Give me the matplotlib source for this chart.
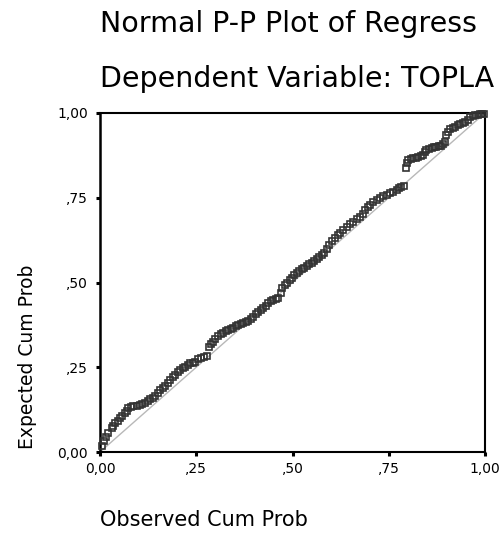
import matplotlib
matplotlib.use("Agg")
import matplotlib.pyplot as plt

# ---- data ----
observed_cum_prob = [
    0.004, 0.010, 0.016, 0.022, 0.030, 0.035, 0.039, 0.046, 0.052, 0.058,
    0.065, 0.070, 0.074, 0.080, 0.087, 0.095, 0.104, 0.110, 0.117, 0.124,
    0.130, 0.137, 0.143, 0.150, 0.156, 0.163, 0.169, 0.176, 0.182, 0.189,
    0.195, 0.202, 0.208, 0.215, 0.221, 0.228, 0.234, 0.241, 0.247, 0.255,
    0.262, 0.270, 0.277, 0.284, 0.289, 0.294, 0.300, 0.307, 0.313, 0.320,
    0.327, 0.333, 0.340, 0.346, 0.353, 0.359, 0.366, 0.372, 0.379, 0.385,
    0.392, 0.398, 0.405, 0.411, 0.418, 0.424, 0.431, 0.437, 0.444, 0.450,
    0.457, 0.463, 0.469, 0.474, 0.481, 0.487, 0.493, 0.498, 0.505, 0.511,
    0.518, 0.524, 0.531, 0.537, 0.544, 0.550, 0.557, 0.563, 0.570, 0.576,
    0.583, 0.589, 0.596, 0.603, 0.610, 0.617, 0.623, 0.632, 0.641, 0.650,
    0.658, 0.667, 0.675, 0.682, 0.688, 0.695, 0.701, 0.710, 0.719, 0.727,
    0.736, 0.745, 0.753, 0.762, 0.771, 0.777, 0.783, 0.790, 0.795, 0.797,
    0.801, 0.808, 0.814, 0.821, 0.827, 0.834, 0.840, 0.844, 0.848, 0.855,
    0.862, 0.868, 0.874, 0.881, 0.887, 0.892, 0.896, 0.900, 0.905, 0.909,
    0.916, 0.922, 0.929, 0.935, 0.942, 0.948, 0.955, 0.961, 0.968, 0.974,
    0.981, 0.987, 0.993, 0.997,
]
expected_cum_prob = [
    0.019, 0.032, 0.045, 0.055, 0.070, 0.077, 0.085, 0.092, 0.099, 0.107,
    0.114, 0.122, 0.129, 0.133, 0.136, 0.137, 0.139, 0.142, 0.145, 0.150,
    0.155, 0.160, 0.165, 0.174, 0.183, 0.189, 0.195, 0.204, 0.212, 0.220,
    0.227, 0.235, 0.242, 0.247, 0.252, 0.257, 0.262, 0.264, 0.266, 0.273,
    0.276, 0.279, 0.283, 0.311, 0.318, 0.325, 0.334, 0.342, 0.347, 0.352,
    0.356, 0.360, 0.364, 0.367, 0.371, 0.375, 0.378, 0.381, 0.384, 0.387,
    0.393, 0.399, 0.407, 0.414, 0.419, 0.424, 0.432, 0.439, 0.444, 0.448,
    0.451, 0.453, 0.468, 0.483, 0.492, 0.500, 0.506, 0.512, 0.521, 0.529,
    0.534, 0.539, 0.544, 0.549, 0.554, 0.558, 0.563, 0.568, 0.575, 0.581,
    0.587, 0.598, 0.611, 0.622, 0.632, 0.640, 0.647, 0.656, 0.665, 0.672,
    0.679, 0.686, 0.692, 0.703, 0.714, 0.722, 0.729, 0.736, 0.743, 0.749,
    0.755, 0.759, 0.763, 0.768, 0.773, 0.778, 0.783, 0.785, 0.837, 0.852,
    0.861, 0.864, 0.866, 0.868, 0.871, 0.874, 0.876, 0.884, 0.891, 0.894,
    0.896, 0.899, 0.901, 0.902, 0.903, 0.908, 0.915, 0.935, 0.945, 0.952,
    0.956, 0.960, 0.964, 0.967, 0.970, 0.974, 0.980, 0.987, 0.990, 0.994,
    0.995, 0.996, 0.997, 0.998,
]
reference_line = [0.0, 1.0]
tick_values = [0.0, 0.25, 0.50, 0.75, 1.0]
tick_labels = ["0,00", ",25", ",50", ",75", "1,00"]

# titles as far as they are visible in the reference
title_line1 = "Normal P-P Plot of Regress"
title_line2 = "Dependent Variable: TOPLA"
x_label = "Observed Cum Prob"
y_label = "Expected Cum Prob"

# ---- figure ----
W, H = 504, 533
fig = plt.figure(figsize=(W / 100, H / 100), dpi=100)
ax = fig.add_axes([100 / W, (H - 452) / H, 385 / W, 339 / H])

ax.plot(reference_line, reference_line, color="#b8b8b8", lw=1.0, zorder=1)
ax.plot(observed_cum_prob, expected_cum_prob, ls="none", marker="s",
        ms=5.0, mfc="none", mec="#333333", mew=1.2, zorder=3, clip_on=False)

ax.set_xlim(0, 1)
ax.set_ylim(0, 1)
ax.set_xticks(tick_values)
ax.set_xticklabels(tick_labels)
ax.set_yticks(tick_values)
ax.set_yticklabels(tick_labels)

for s in ax.spines.values():
    s.set_linewidth(1.5)
    s.set_color("black")
ax.spines["left"].set_linewidth(1.8)

ax.tick_params(axis="both", direction="out", length=3, width=2.2,
               colors="black", labelsize=10)
ax.tick_params(axis="x", pad=4.5)
ax.tick_params(axis="y", pad=5.5)

fig.text(100 / W, 1 - 32 / H, title_line1, fontsize=20.5, ha="left",
         va="baseline")
fig.text(100 / W, 1 - 87.3 / H, title_line2, fontsize=20.5, ha="left",
         va="baseline")
fig.text(100 / W, 1 - 526 / H, x_label, fontsize=15, ha="left",
         va="baseline")
fig.text(33 / W, 1 - 449 / H, y_label, fontsize=13.5, rotation=90,
         rotation_mode="anchor", ha="left", va="baseline")

fig.savefig("out.png", dpi=100)
